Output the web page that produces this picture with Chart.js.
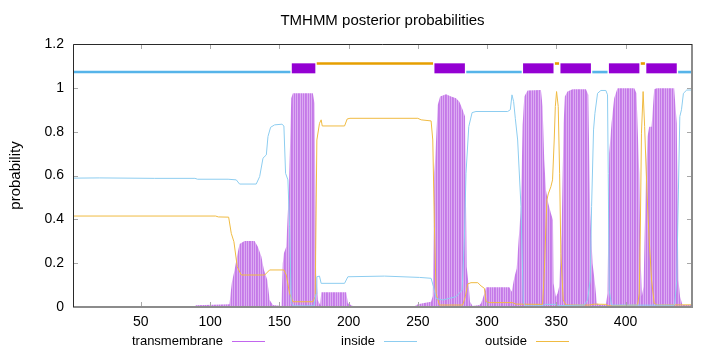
<!DOCTYPE html>
<html>
<head>
<meta charset="utf-8">
<title>TMHMM posterior probabilities</title>
<script src="https://cdn.jsdelivr.net/npm/chart.js@4/dist/chart.umd.min.js"></script>
<style>
  html, body { margin: 0; padding: 0; background: #fff; }
  canvas { display: block; }
</style>
</head>
<body>
<canvas id="tmChart" width="720" height="352"></canvas>
<script>
/* ===== TMHMM posterior probabilities ===== */
var chartTitle = "TMHMM posterior probabilities";
var yTitle = "probability";
var xTicks = [50, 100, 150, 200, 250, 300, 350, 400];
var yTicks = [0, 0.2, 0.4, 0.6, 0.8, 1, 1.2];
var legendLabels = ["transmembrane", "inside", "outside"];

// predicted topology (residue ranges)
var insideSegs = [[1, 158], [285, 325], [376, 387], [438, 448]];
var outsideSegs = [[177, 261], [349, 352], [411, 414]];
var tmSegs = [[159, 176], [262, 284], [326, 348], [353, 375], [388, 410], [415, 437]];

// posterior probabilities: [residue, p]
var tmProb = [
  [1, 0.004], [25, 0.004], [26, 0.001], [88, 0.001], [90, 0.008], [114, 0.012], [114.8, 0.062], [115.8, 0.115],
  [117.7, 0.169], [119.6, 0.237], [121.3, 0.287], [124.9, 0.301], [132.1, 0.301], [134.5, 0.275], [137, 0.23],
  [138.9, 0.169], [141.3, 0.123], [143, 0.032], [145.4, 0.009], [151.5, 0.005], [152.5, 0.2], [153.3, 0.245],
  [155, 0.275], [156.9, 0.534], [158.6, 0.953], [159.8, 0.975], [174.2, 0.975], [175.4, 0.93], [176.6, 0.154],
  [177.8, 0.032], [179.5, 0.009], [180.3, 0.067], [198.3, 0.067], [199.5, 0.017], [203, 0.005], [248, 0.005],
  [250, 0.012], [253.6, 0.017], [259.6, 0.024], [260.8, 0.05], [262, 0.61], [263.2, 0.762], [264.4, 0.922],
  [266.1, 0.96], [270.4, 0.971], [274, 0.96], [277.6, 0.953], [280, 0.937], [282.4, 0.9], [284.1, 0.869],
  [285.3, 0.184], [286.8, 0.093], [287.7, 0.024], [289.6, 0.005], [294.5, 0.009], [295.7, 0.017], [298.1, 0.062],
  [299.3, 0.09], [316.1, 0.09], [317.8, 0.07], [319.7, 0.135], [321.4, 0.176], [322.8, 0.306], [324.5, 0.458],
  [325.7, 0.831], [326.9, 0.96], [329.3, 0.988], [338.9, 0.99], [340.1, 0.915], [341.3, 0.671], [342.5, 0.534],
  [344.2, 0.473], [346.1, 0.428], [347.6, 0.397], [348, 0.108], [349.7, 0.047], [350.9, 0.062], [352.1, 0.093],
  [353.8, 0.336], [355.3, 0.838], [356.2, 0.96], [358.1, 0.983], [361.8, 0.994], [371.4, 0.994], [373.1, 0.968],
  [374.5, 0.428], [376.2, 0.199], [377.9, 0.108], [379.3, 0.017], [381, 0.009], [385.8, 0.009], [387, 0.062],
  [388.2, 0.701], [389.9, 0.838], [391.8, 0.953], [394.2, 0.998], [406.3, 0.998], [407.9, 0.975], [409.9, 0.61],
  [410.6, 0.275], [411.8, 0.05], [413, 0.093], [414.7, 0.58], [415.9, 0.778], [417.1, 0.823], [418.8, 0.823],
  [420.7, 0.994], [422.6, 0.998], [435.1, 0.998], [437, 0.838], [438.2, 0.123], [439.4, 0.047], [441.1, 0.009],
  [448, 0.009]
];
var insideProb = [
  [1, 0.588], [20, 0.589], [60, 0.587], [89, 0.587], [91, 0.583], [113, 0.583], [118.9, 0.58], [121.3, 0.561],
  [133.3, 0.561], [135.8, 0.595], [138.2, 0.679], [140.6, 0.694], [141.8, 0.778], [143.7, 0.82], [146.6, 0.831],
  [151.9, 0.834], [153.3, 0.826], [154.5, 0.61], [156.2, 0.58], [157.4, 0.367], [158.6, 0.02], [160, 0.005],
  [175, 0.005], [176.5, 0.06], [177.1, 0.138], [179, 0.141], [180.2, 0.108], [197.1, 0.108], [199.5, 0.138],
  [226, 0.141], [251.2, 0.135], [259.6, 0.131], [261.3, 0.093], [263.2, 0.039], [268, 0.032], [277.6, 0.047],
  [282, 0.077], [283.6, 0.306], [284.8, 0.61], [286.8, 0.823], [289.2, 0.887], [292, 0.892], [314.9, 0.892],
  [316.8, 0.9], [318, 0.968], [319.2, 0.937], [320.4, 0.861], [322.1, 0.762], [324.5, 0.458], [326.2, 0.017],
  [328, 0.005], [340, 0.006], [342, 0.012], [350, 0.012], [352, 0.006], [370.2, 0.009], [372.6, 0.032],
  [374.5, 0.123], [375.5, 0.458], [376.9, 0.808], [377.9, 0.884], [379.8, 0.975], [382.2, 0.988], [385.8, 0.988],
  [387, 0.968], [387.5, 0.61], [388.2, 0.077], [389.9, 0.009], [435, 0.008], [435.6, 0.017], [437, 0.123],
  [438.2, 0.534], [439.2, 0.869], [440.4, 0.9], [441.8, 0.975], [444.2, 0.99], [448, 0.99]
];
var outsideProb = [
  [1, 0.415], [104, 0.415], [106, 0.411], [113.4, 0.41], [115.3, 0.336], [117.2, 0.298], [119.6, 0.184],
  [122.5, 0.146], [139.4, 0.146], [143, 0.169], [153.3, 0.169], [155, 0.146], [157.4, 0.062], [159.8, 0.024],
  [174.2, 0.024], [175.9, 0.047], [177.1, 0.762], [179, 0.838], [180.2, 0.854], [181, 0.826], [197.1, 0.826],
  [199, 0.858], [201, 0.861], [250, 0.861], [252.4, 0.854], [259.6, 0.849], [260.8, 0.762], [262, 0.367],
  [263.2, 0.062], [265.6, 0.009], [282.4, 0.009], [284.3, 0.047], [286, 0.105], [288.4, 0.111], [293.3, 0.111],
  [295.7, 0.096], [298.1, 0.085], [299.3, 0.024], [301.7, 0.02], [318.5, 0.02], [320.9, 0.013], [340.1, 0.012],
  [341.3, 0.154], [343.2, 0.488], [344.2, 0.516], [346.1, 0.549], [347.3, 0.58], [348.5, 0.762], [349.3, 0.915],
  [350.2, 0.983], [351.4, 0.915], [352.4, 0.61], [353.3, 0.245], [355, 0.032], [357, 0.009], [373.8, 0.009],
  [377.4, 0.013], [385.8, 0.012], [388, 0.005], [408.7, 0.009], [409.9, 0.062], [410.6, 0.306], [411.5, 0.793],
  [412.7, 0.983], [413.8, 0.823], [415.4, 0.534], [417.1, 0.306], [418.8, 0.123], [420.7, 0.017], [423.1, 0.009],
  [448, 0.01]
];

(function () {
  "use strict";
  var FONT = "'Liberation Sans', Arial, sans-serif";
  var C = { tm: "#c266ee", inside: "#8dcdf0", outside: "#f0bb42", boxTm: "#9400d3", boxIn: "#56b4e9", boxOut: "#e69f00" };

  function pts(a) { return a.map(function (p) { return { x: p[0], y: p[1] }; }); }

  // impulses look: alternating dark / light purple columns
  function stripes() {
    var c = document.createElement("canvas");
    c.width = 7; c.height = 1;
    var g = c.getContext("2d");
    ["#c47ae8", "#dcacf2", "#c47ae8", "#dcacf2", "#c47ae8", "#c980ea", "#dcacf2"].forEach(function (col, i) {
      g.fillStyle = col; g.fillRect(i, 0, 1, 1);
    });
    return g.createPattern(c, "repeat");
  }

  function segSets(segs, y, color, w) {
    return segs.map(function (s) {
      return { data: [{ x: s[0], y: y }, { x: s[1], y: y }], borderColor: color, borderWidth: w,
        borderCapStyle: "butt", pointRadius: 0, fill: false, order: 0, clip: false };
    });
  }

  var datasets = [
    { label: legendLabels[0], data: pts(tmProb), borderWidth: 0, borderColor: "rgba(0,0,0,0)",
      backgroundColor: stripes(), fill: "origin", pointRadius: 0, tension: 0, order: 3 },
    { label: legendLabels[1], data: pts(insideProb), borderColor: C.inside, borderWidth: 1, pointRadius: 0, tension: 0, fill: false, order: 1 },
    { label: legendLabels[2], data: pts(outsideProb), borderColor: C.outside, borderWidth: 1, pointRadius: 0, tension: 0, fill: false, order: 1 }
  ]
    .concat(segSets(insideSegs, 1.072, C.boxIn, 2.6))
    .concat(segSets(outsideSegs, 1.111, C.boxOut, 2.6))
    .concat(segSets(tmSegs, 1.089, C.boxTm, 10));

  var frame = {
    id: "frame",
    afterDraw: function (chart) {
      var ctx = chart.ctx, a = chart.chartArea, sx = chart.scales.x, sy = chart.scales.y;
      ctx.save();
      // inward ticks on all sides
      ctx.strokeStyle = "#a8a8a8"; ctx.lineWidth = 1;
      ctx.beginPath();
      xTicks.forEach(function (v) {
        var px = Math.round(sx.getPixelForValue(v)) + 0.5;
        ctx.moveTo(px, a.bottom); ctx.lineTo(px, a.bottom - 5);
        ctx.moveTo(px, a.top); ctx.lineTo(px, a.top + 5);
      });
      yTicks.forEach(function (v) {
        var py = Math.round(sy.getPixelForValue(v)) + 0.5;
        ctx.moveTo(a.left, py); ctx.lineTo(a.left + 5, py);
        ctx.moveTo(a.right, py); ctx.lineTo(a.right - 5, py);
      });
      ctx.stroke();
      // border
      ctx.strokeStyle = "#8c8c8c"; ctx.lineWidth = 2;
      ctx.beginPath();
      ctx.moveTo(a.left, a.bottom); ctx.lineTo(a.right, a.bottom); ctx.lineTo(a.right, a.top);
      ctx.stroke();
      ctx.strokeStyle = "#2a2a2a"; ctx.lineWidth = 1;
      ctx.beginPath();
      ctx.moveTo(a.left + 0.5, a.bottom); ctx.lineTo(a.left + 0.5, a.top + 0.5); ctx.lineTo(a.right, a.top + 0.5);
      ctx.stroke();
      // title
      ctx.fillStyle = "#000";
      ctx.font = "15px " + FONT;
      ctx.textAlign = "center"; ctx.textBaseline = "alphabetic";
      ctx.fillText(chartTitle, (a.left + a.right) / 2, 25);
      // y title
      ctx.save();
      ctx.translate(20, (a.top + a.bottom) / 2);
      ctx.rotate(-Math.PI / 2);
      ctx.fillText(yTitle, 0, 0);
      ctx.restore();
      // legend under the axis: text right aligned, then a line sample
      var cols = [C.tm, C.inside, C.outside];
      var ends = [223, 375, 527];
      ctx.font = "13px " + FONT;
      ctx.textAlign = "right"; ctx.textBaseline = "middle";
      legendLabels.forEach(function (lab, i) {
        ctx.fillStyle = "#000";
        ctx.fillText(lab, ends[i], 341);
        ctx.strokeStyle = cols[i]; ctx.lineWidth = 1;
        ctx.beginPath(); ctx.moveTo(ends[i] + 9, 341.5); ctx.lineTo(ends[i] + 42, 341.5); ctx.stroke();
      });
      ctx.restore();
    }
  };

  new Chart(document.getElementById("tmChart"), {
    type: "line",
    data: { datasets: datasets },
    plugins: [frame],
    options: {
      responsive: false,
      animation: false,
      parsing: false,
      layout: { padding: { top: 44, right: 28, left: 0, bottom: 0 } },
      plugins: { legend: { display: false }, title: { display: false }, tooltip: { enabled: false } },
      scales: {
        x: {
          type: "linear", min: 1, max: 448,
          afterFit: function (s) { s.height = 45; },
          afterBuildTicks: function (s) { s.ticks = xTicks.map(function (v) { return { value: v }; }); },
          grid: { display: false, drawTicks: false },
          border: { display: false },
          ticks: { padding: 7, color: "#000", font: { family: FONT, size: 14 }, maxRotation: 0, autoSkip: false }
        },
        y: {
          min: 0, max: 1.2,
          afterFit: function (s) { s.width = 73; },
          afterBuildTicks: function (s) { s.ticks = yTicks.map(function (v) { return { value: v }; }); },
          grid: { display: false, drawTicks: false },
          border: { display: false },
          ticks: { padding: 9, color: "#000", font: { family: FONT, size: 14 },
            callback: function (v) { return String(+v.toFixed(1)); } }
        }
      }
    }
  });
})();
</script>
</body>
</html>
